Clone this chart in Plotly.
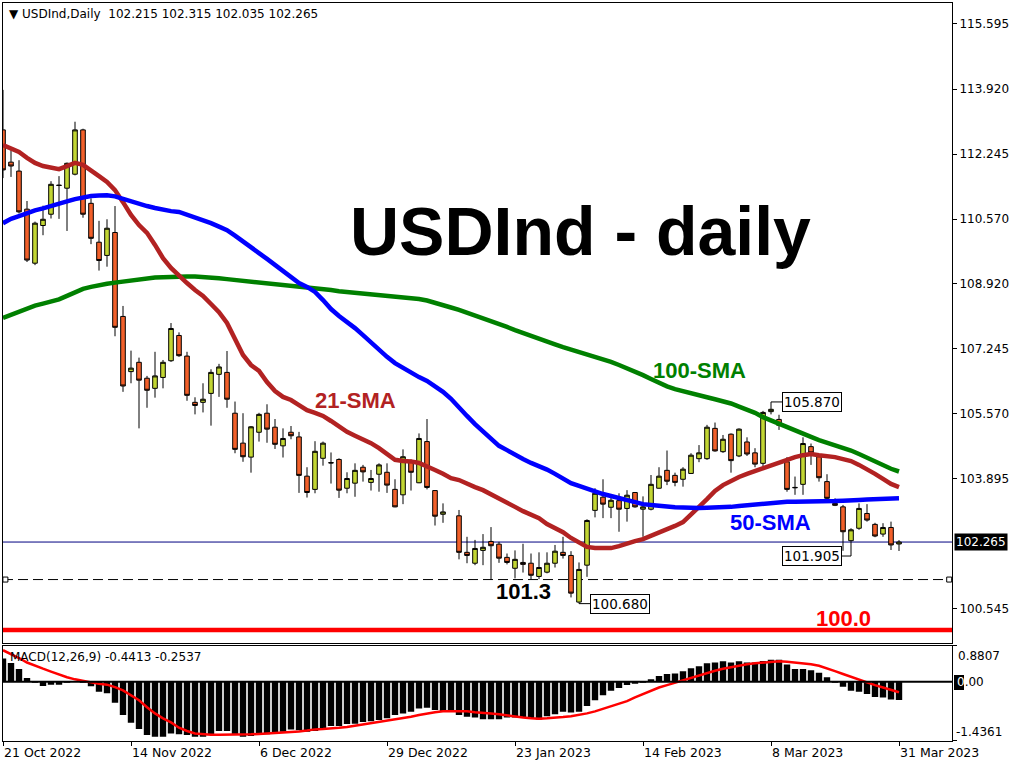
import plotly.graph_objects as go

# ---------------- data ----------------
symbol_name = "USDInd,Daily"
date_labels = ["21 Oct 2022", "14 Nov 2022", "6 Dec 2022", "29 Dec 2022",
               "23 Jan 2023", "14 Feb 2023", "8 Mar 2023", "31 Mar 2023"]
date_bars = [0, 16, 32, 48, 64, 80, 96, 112]

price_ticks = [115.595, 113.920, 112.245, 110.570, 108.920, 107.245, 105.570, 103.895, 100.545]
price_tick_text = ["115.595", "113.920", "112.245", "110.570", "108.920", "107.245",
                   "105.570", "103.895", "100.545"]

opens = [112.87, 112.04, 111.81, 110.83, 109.44, 110.41, 110.70, 111.45, 111.37, 111.73,
         112.87, 110.98, 109.98, 109.64, 110.23, 108.07, 106.65, 106.89, 106.48, 106.22,
         106.50, 106.93, 107.58, 107.05, 105.86, 105.86, 106.09, 106.58, 106.63, 105.58,
         104.81, 104.45, 105.09, 105.58, 105.22, 104.74, 105.09, 104.97, 103.96, 103.62,
         104.42, 104.31, 104.39, 103.65, 103.78, 104.19, 103.80, 104.01, 104.06, 103.62,
         103.48, 104.33, 103.79, 104.85, 103.59, 102.98, None, 102.94, 102.00, 101.72,
         102.05, 102.28, 102.21, 101.87, 101.59, 101.74, 101.72, 101.38, 101.49, 101.72,
         102.00, 101.92, 100.72, 101.67, 103.08, 103.42, 103.16, 103.33, 103.13, 103.54,
         103.11, 103.11, 103.65, 104.11, 103.98, 103.88, 104.03, 104.41, 104.41, 105.19,
         104.59, 105.04, 104.48, 104.84, 104.56, 104.29, 105.62, 105.42, 104.33, 103.66,
         103.75, 104.72, 104.46, 103.82, 103.26, 103.17, 102.30, 102.62, 103.00, 102.72,
         102.47, 102.64, 102.215]
highs = [113.90, 112.35, 112.09, 111.04, 110.51, 110.92, 111.55, 111.68, 112.03, 113.08,
         112.90, 111.11, 110.53, 110.57, 110.91, 108.34, 107.19, 107.01, 106.54, 107.16,
         106.95, 107.90, 107.66, 107.16, 105.99, 106.35, 106.71, 106.85, 107.18, 105.88,
         105.58, 105.25, 105.59, 105.81, 105.43, 105.19, 105.25, 105.10, 104.19, 104.86,
         104.85, 104.57, 104.42, 104.06, 104.29, 104.25, 104.12, 104.29, 104.29, 103.88,
         104.65, 104.39, 105.06, 105.43, 103.60, 103.26, None, 103.09, 102.40, 102.32,
         102.47, 102.65, 102.27, 101.97, 102.05, 102.22, 101.97, 102.00, 102.00, 102.19,
         102.40, 102.03, 101.74, 102.85, 103.65, 103.88, 103.42, 103.52, 103.60, 103.55,
         103.44, 103.99, 104.19, 104.62, 104.05, 104.19, 104.55, 104.76, 105.28, 105.34,
         105.02, 105.06, 105.19, 104.96, 104.68, 105.64, 105.870, 105.54, 104.45, 103.95,
         104.96, 104.80, 104.48, 104.01, 103.39, 103.22, 102.62, 103.26, 103.24, 102.76,
         102.75, 102.79, 102.315]
lows = [111.63, 111.66, 110.72, 109.47, 109.39, 110.16, 110.59, 110.58, 110.27, 111.70,
        110.61, 109.93, 109.25, 109.35, 107.56, 106.13, 106.35, 105.19, 105.72, 105.98,
        106.22, 106.90, 107.03, 105.90, 105.55, 105.60, 105.26, 106.00, 105.72, 104.55,
        104.33, 104.05, 104.85, 104.82, 104.66, 104.44, 104.91, 103.53, 103.41, 103.52,
        104.23, 103.77, 103.40, 103.52, 103.43, 103.82, 103.59, 103.56, 103.53, 103.16,
        103.24, 103.59, 103.78, 103.62, 102.69, 102.76, None, 101.82, 101.72, 101.67,
        101.67, 101.29, 101.73, 101.69, 101.33, 101.48, 101.31, 101.31, 101.46, 101.61,
        101.84, 100.84, 100.680, 101.37, 102.90, 102.88, 102.88, 102.53, 102.79, 103.15,
        102.40, 103.08, 103.64, 103.73, 103.70, 103.69, 104.02, 104.32, 104.38, 104.59,
        104.56, 104.05, 104.45, 104.48, 104.19, 104.22, 105.55, 105.15, 103.56, 103.48,
        103.48, 104.25, 103.82, 103.36, 103.19, 102.04, 101.905, 102.58, 102.79, 102.39,
        102.40, 102.06, 102.035]
closes = [111.84, 111.94, 110.76, 109.52, 110.47, 110.57, 111.47, 111.44, 112.01, 112.87,
          110.70, 110.08, 109.51, 110.34, 107.79, 106.28, 106.74, 106.43, 106.17, 106.54,
          106.89, 107.76, 107.06, 106.04, 105.78, 105.94, 106.63, 106.77, 105.94, 104.65,
          104.46, 105.23, 105.55, 105.17, 104.78, 104.93, 105.00, 103.98, 103.54, 104.60,
          104.81, 104.30, 103.60, 103.90, 104.11, 104.07, 103.90, 104.25, 103.73, 103.17,
          104.46, 104.06, 104.93, 103.67, 102.93, 103.04, None, 102.00, 101.92, 102.10,
          102.13, 102.17, 101.85, 101.74, 101.82, 101.69, 101.41, 101.61, 101.72, 102.03,
          101.92, 100.95, 101.56, 102.82, 103.52, 103.24, 103.34, 103.11, 103.47, 103.17,
          103.17, 103.75, 103.96, 103.83, 103.80, 104.14, 104.50, 104.56, 105.22, 104.61,
          104.91, 104.36, 105.17, 104.53, 104.27, 105.60, 105.68, 105.27, 103.62, 103.67,
          104.80, 104.56, 103.92, 103.39, 103.21, 102.53, 102.58, 103.13, 102.83, 102.42,
          102.64, 102.19, 102.265]

sma21 = [112.48, 112.40, 112.30, 112.15, 112.02, 111.94, 111.89, 111.86, 111.94, 112.02,
         111.97, 111.84, 111.68, 111.53, 111.32, 111.01, 110.68, 110.42, 110.22, 109.91,
         109.57, 109.32, 109.11, 108.93, 108.75, 108.60, 108.39, 108.18, 107.90, 107.51,
         107.08, 106.82, 106.67, 106.38, 106.15, 106.00, 105.92, 105.79, 105.66, 105.59,
         105.51, 105.38, 105.23, 105.10, 105.00, 104.92, 104.81, 104.68, 104.53, 104.38,
         104.35, 104.34, 104.30, 104.22, 104.12, 104.02, 103.91, 103.86, 103.76, 103.68,
         103.60, 103.50, 103.40, 103.30, 103.17, 103.06, 102.96, 102.88, 102.73, 102.63,
         102.52, 102.37, 102.24, 102.14, 102.11, 102.11, 102.11, 102.16, 102.24, 102.29,
         102.34, 102.42, 102.50, 102.58, 102.68, 102.78, 102.96, 103.17, 103.37, 103.58,
         103.73, 103.84, 103.94, 104.02, 104.09, 104.17, 104.25, 104.33, 104.40, 104.45,
         104.50, 104.53, 104.50, 104.48, 104.45, 104.40, 104.35, 104.25, 104.15, 104.02,
         103.89, 103.76, 103.68]
sma50 = [110.47, 110.58, 110.65, 110.73, 110.80, 110.85, 110.90, 110.96, 111.03, 111.09,
         111.14, 111.17, 111.18, 111.19, 111.16, 111.09, 111.03, 110.96, 110.91, 110.86,
         110.81, 110.78, 110.76, 110.69, 110.63, 110.55, 110.47, 110.38, 110.29, 110.15,
         110.01, 109.86, 109.70, 109.55, 109.39, 109.24, 109.09, 108.93, 108.83, 108.70,
         108.49, 108.26, 108.08, 107.93, 107.77, 107.59, 107.39, 107.21, 107.03, 106.87,
         106.74, 106.62, 106.51, 106.41, 106.28, 106.13, 105.95, 105.71, 105.51, 105.30,
         105.12, 104.92, 104.74, 104.63, 104.50, 104.40, 104.30, 104.22, 104.13, 104.02,
         103.89, 103.78, 103.71, 103.63, 103.57, 103.50, 103.45, 103.39, 103.33, 103.28,
         103.24, 103.22, 103.19, 103.18, 103.16, 103.15, 103.14, 103.14, 103.15, 103.15,
         103.16, 103.17, 103.19, 103.21, 103.23, 103.26, 103.28, 103.30, 103.30, 103.30,
         103.30, 103.30, 103.30, 103.31, 103.32, 103.33, 103.35, 103.35, 103.36, 103.37,
         103.37, 103.38, 103.39]
sma100 = [108.03, 108.11, 108.20, 108.27, 108.35, 108.40, 108.45, 108.51, 108.60, 108.70,
          108.78, 108.83, 108.88, 108.91, 108.94, 108.97, 109.00, 109.02, 109.05, 109.07,
          109.08, 109.09, 109.11, 109.10, 109.10, 109.09, 109.07, 109.05, 109.03, 109.01,
          108.98, 108.96, 108.93, 108.91, 108.90, 108.88, 108.87, 108.85, 108.83, 108.80,
          108.78, 108.75, 108.72, 108.70, 108.68, 108.66, 108.65, 108.63, 108.61, 108.60,
          108.57, 108.54, 108.52, 108.48, 108.43, 108.36, 108.30, 108.24, 108.17, 108.11,
          108.03, 107.95, 107.88, 107.80, 107.72, 107.64, 107.57, 107.49, 107.41, 107.35,
          107.28, 107.22, 107.16, 107.09, 107.03, 106.96, 106.90, 106.82, 106.74, 106.65,
          106.56, 106.46, 106.36, 106.27, 106.20, 106.14, 106.09, 106.04, 105.99, 105.94,
          105.89, 105.83, 105.75, 105.68, 105.59, 105.48, 105.39, 105.30, 105.21, 105.12,
          105.05, 104.97, 104.89, 104.83, 104.76, 104.69, 104.62, 104.53, 104.43, 104.33,
          104.24, 104.15, 104.08]

macd_main = [0.57, 0.46, 0.31, 0.09, -0.02, -0.10, -0.07, -0.07, -0.01, 0.00,
             -0.02, -0.11, -0.24, -0.28, -0.51, -0.81, -1.00, -1.15, -1.30, -1.34,
             -1.34, -1.26, -1.28, -1.30, -1.34, -1.34, -1.30, -1.20, -1.20, -1.28,
             -1.34, -1.32, -1.30, -1.28, -1.26, -1.22, -1.16, -1.18, -1.22, -1.20,
             -1.14, -1.08, -1.08, -1.03, -1.02, -0.98, -0.96, -0.93, -0.89, -0.81,
             -0.77, -0.73, -0.65, -0.63, -0.69, -0.72, -0.73, -0.81, -0.85, -0.87,
             -0.91, -0.91, -0.91, -0.87, -0.87, -0.87, -0.89, -0.92, -0.84, -0.79,
             -0.73, -0.75, -0.73, -0.59, -0.45, -0.33, -0.22, -0.15, -0.08, -0.04,
             -0.01, 0.06, 0.14, 0.19, 0.20, 0.26, 0.33, 0.38, 0.45, 0.47,
             0.50, 0.47, 0.50, 0.47, 0.47, 0.51, 0.54, 0.54, 0.42, 0.31,
             0.31, 0.28, 0.22, 0.11, -0.01, -0.12, -0.22, -0.24, -0.30, -0.37,
             -0.38, -0.43, -0.4413]
macd_signal = [0.77, 0.68, 0.58, 0.47, 0.39, 0.32, 0.25, 0.18, 0.11, 0.06,
               0.02, -0.02, -0.05, -0.07, -0.13, -0.21, -0.33, -0.45, -0.62, -0.77,
               -0.89, -0.99, -1.12, -1.20, -1.26, -1.28, -1.29, -1.29, -1.29, -1.29,
               -1.28, -1.28, -1.27, -1.26, -1.25, -1.24, -1.23, -1.21, -1.19, -1.16,
               -1.15, -1.14, -1.12, -1.10, -1.07, -1.04, -1.00, -0.97, -0.94, -0.91,
               -0.88, -0.85, -0.81, -0.77, -0.74, -0.72, -0.72, -0.72, -0.72, -0.74,
               -0.75, -0.77, -0.79, -0.82, -0.85, -0.87, -0.89, -0.90, -0.89, -0.88,
               -0.86, -0.84, -0.81, -0.77, -0.72, -0.66, -0.59, -0.53, -0.47, -0.38,
               -0.30, -0.22, -0.14, -0.08, -0.02, 0.03, 0.09, 0.15, 0.21, 0.27,
               0.32, 0.36, 0.40, 0.43, 0.45, 0.47, 0.49, 0.50, 0.49, 0.47,
               0.45, 0.43, 0.39, 0.33, 0.26, 0.19, 0.12, 0.05, -0.02, -0.08,
               -0.14, -0.20, -0.2537]
macd_range = [-1.4361, 0.8807]

support_level = 101.3
target_level = 100.0

# ---------------- styling ----------------
W, H = 1024, 768
BULL = "#C2D633"
BEAR = "#F2602A"
AXFONT = dict(family="DejaVu Sans, Verdana, sans-serif", size=12, color="black")
BIGFONT = "Arial Black, Liberation Sans, Arial, sans-serif"

bars = list(range(len(opens)))
x_range = [0, 118.625]
y_range = [99.675, 116.135]

px_left, px_right = 3, 952
main_top, main_bot = 3, 642.7
macd_top, macd_bot = 645.7, 740.7
xdom = [px_left / W, px_right / W]
ydom_main = [1 - main_bot / H, 1 - main_top / H]
ydom_macd = [1 - macd_bot / H, 1 - macd_top / H]

fig = go.Figure()

fig.add_trace(go.Candlestick(
    x=bars, open=opens, high=highs, low=lows, close=closes,
    increasing=dict(fillcolor=BULL, line=dict(color="black", width=1)),
    decreasing=dict(fillcolor=BEAR, line=dict(color="black", width=1)),
    whiskerwidth=0, showlegend=False, hoverinfo="skip", xaxis="x", yaxis="y"))

for vals, col in [(sma100, "#008000"), (sma21, "#B22222"), (sma50, "#0000FF")]:
    fig.add_trace(go.Scatter(x=bars, y=vals, mode="lines", line=dict(color=col, width=4.5),
                             showlegend=False, hoverinfo="skip", xaxis="x", yaxis="y"))

# end handles of the support line
fig.add_trace(go.Scatter(x=[x_range[0] + 0.3, x_range[1] - 0.35], y=[support_level, support_level],
                         mode="markers",
                         marker=dict(symbol="square", size=5, color="white",
                                     line=dict(color="black", width=1)),
                         showlegend=False, hoverinfo="skip", xaxis="x", yaxis="y", cliponaxis=False))

fig.add_trace(go.Bar(x=bars, y=macd_main, marker=dict(color="black", line=dict(width=0)),
                     width=0.8, showlegend=False, hoverinfo="skip", xaxis="x2", yaxis="y2"))
fig.add_trace(go.Scatter(x=bars, y=macd_signal, mode="lines", line=dict(color="#FF0000", width=2.5),
                         showlegend=False, hoverinfo="skip", xaxis="x2", yaxis="y2"))

shapes = [
    dict(type="line", xref="x domain", yref="y", x0=0, x1=1, y0=closes[-1], y1=closes[-1],
         line=dict(color="#000080", width=1), layer="below"),
    dict(type="line", xref="x domain", yref="y", x0=0, x1=1, y0=support_level, y1=support_level,
         line=dict(color="black", width=1, dash="10px,5px"), layer="below"),
    dict(type="line", xref="x domain", yref="y", x0=0, x1=1, y0=target_level, y1=target_level,
         line=dict(color="#FF0000", width=4.5), layer="above"),
    dict(type="line", xref="x2 domain", yref="y2", x0=0, x1=1, y0=0, y1=0,
         line=dict(color="black", width=2), layer="above"),
]

# price label connectors
low_i = lows.index(min(l for l in lows if l is not None))
high_i = 96
swing_i = 106
lab_low_x, lab_high_x, lab_swing_x = low_i + 1.4, high_i + 1.4, swing_i - 1.15
shapes += [
    dict(type="line", xref="x", yref="y", x0=low_i, x1=lab_low_x, y0=lows[low_i], y1=lows[low_i],
         line=dict(color="black", width=1)),
    dict(type="line", xref="x", yref="y", x0=high_i, x1=lab_high_x, y0=highs[high_i], y1=highs[high_i],
         line=dict(color="black", width=1)),
    dict(type="line", xref="x", yref="y", x0=lab_swing_x, x1=swing_i, y0=lows[swing_i], y1=lows[swing_i],
         line=dict(color="black", width=1)),
]

BOXFONT = dict(family="DejaVu Sans, Verdana, sans-serif", size=13.5, color="black")
annotations = [
    dict(text="\u25BC " + symbol_name + "\u00a0 " + " ".join(f"{v:.3f}" for v in
         (opens[-1], highs[-1], lows[-1], closes[-1])),
         xref="paper", yref="paper", x=7 / W, y=1 - 14 / H, xanchor="left", yanchor="middle",
         showarrow=False, font=AXFONT),
    dict(text="<b>USDInd - daily</b>", xref="x", yref="y", x=72.2, y=110.26, showarrow=False,
         xanchor="center", yanchor="middle", font=dict(family=BIGFONT, size=68, color="black")),
    dict(text="<b>21-SMA</b>", xref="x", yref="y", x=44.1, y=105.90, showarrow=False,
         font=dict(family=BIGFONT, size=22, color="#B22222")),
    dict(text="<b>100-SMA</b>", xref="x", yref="y", x=87.06, y=106.67, showarrow=False,
         font=dict(family=BIGFONT, size=22, color="#008000")),
    dict(text="<b>50-SMA</b>", xref="x", yref="y", x=95.9, y=102.78, showarrow=False,
         font=dict(family=BIGFONT, size=22, color="#0000FF")),
    dict(text=f"<b>{support_level:.1f}</b>", xref="x", yref="y", x=65.06, y=100.98, showarrow=False,
         font=dict(family=BIGFONT, size=22, color="black")),
    dict(text=f"<b>{target_level:.1f}</b>", xref="x", yref="y", x=105.06, y=100.29, showarrow=False,
         font=dict(family=BIGFONT, size=22, color="#FF0000")),
    dict(text=f"{lows[low_i]:.3f}", xref="x", yref="y", x=lab_low_x, y=lows[low_i], showarrow=False,
         xanchor="left", yanchor="middle", bgcolor="white", bordercolor="black", borderwidth=1,
         borderpad=1, font=BOXFONT),
    dict(text=f"{highs[high_i]:.3f}", xref="x", yref="y", x=lab_high_x, y=highs[high_i], showarrow=False,
         xanchor="left", yanchor="middle", bgcolor="white", bordercolor="black", borderwidth=1,
         borderpad=1, font=BOXFONT),
    dict(text=f"{lows[swing_i]:.3f}", xref="x", yref="y", x=lab_swing_x, y=lows[swing_i], showarrow=False,
         xanchor="right", yanchor="middle", bgcolor="white", bordercolor="black", borderwidth=1,
         borderpad=1, font=BOXFONT),
    # current price tag on the axis
    dict(text=f"{closes[-1]:.3f}", xref="paper", yref="y", x=954 / W, y=closes[-1], showarrow=False,
         xanchor="left", yanchor="middle", bgcolor="black", borderpad=1,
         font=dict(family=AXFONT["family"], size=12, color="white")),
    # MACD panel texts
    dict(text=f"MACD(12,26,9) {macd_main[-1]:.4f} {macd_signal[-1]:.4f}", xref="paper", yref="paper",
         x=8 / W, y=1 - 657 / H, xanchor="left", yanchor="middle", showarrow=False, font=AXFONT),
    dict(text=f"{macd_range[1]:.4f}", xref="paper", yref="paper", x=956 / W, y=1 - 656 / H,
         xanchor="left", yanchor="middle", showarrow=False, font=AXFONT),
    dict(text="<span style='color:white'>0</span>.00", xref="paper", yref="y2", x=955 / W, y=0,
         xanchor="left", yanchor="middle", showarrow=False, font=AXFONT),
    dict(text=f"{macd_range[0]:.4f}", xref="paper", yref="paper", x=954 / W, y=1 - 732 / H,
         xanchor="left", yanchor="middle", showarrow=False, font=AXFONT),
]
shapes.append(dict(type="rect", xref="paper", yref="paper", x0=954 / W, x1=964 / W,
                   y0=1 - 690 / H, y1=1 - 675 / H, fillcolor="black", line=dict(width=0)))

axis_common = dict(showgrid=False, zeroline=False, showline=True, mirror=True, automargin=False,
                   linecolor="black", linewidth=1, fixedrange=True)

fig.update_layout(
    template="none",
    width=W, height=H, autosize=False, margin=dict(l=0, r=0, t=0, b=0, pad=0),
    paper_bgcolor="white", plot_bgcolor="white", hovermode=False, showlegend=False,
    boxgap=0.18, font=AXFONT,
    xaxis=dict(domain=xdom, range=x_range, anchor="y", showticklabels=False, ticks="",
               rangeslider=dict(visible=False), **axis_common),
    yaxis=dict(domain=ydom_main, range=y_range, anchor="x", side="right",
               tickvals=price_ticks, ticktext=price_tick_text, ticks="outside", ticklen=4,
               tickcolor="black", tickfont=AXFONT, **axis_common),
    xaxis2=dict(domain=xdom, range=x_range, anchor="y2", tickvals=date_bars, ticktext=date_labels,
                ticks="outside", ticklen=4, tickcolor="black", ticklabelposition="outside right",
                tickfont=dict(family=AXFONT["family"], size=12.5, color="black"), **axis_common),
    yaxis2=dict(domain=ydom_macd, range=macd_range, anchor="x2", side="right",
                tickvals=macd_range, ticktext=["", ""], ticks="outside", ticklen=4,
                tickcolor="black", **axis_common),
    shapes=shapes, annotations=annotations,
)

page_fix = "document.body.style.margin='0';document.body.style.overflow='hidden';"

fig.write_html("out.html", config={"responsive": False, "displayModeBar": False},
               post_script=page_fix)
